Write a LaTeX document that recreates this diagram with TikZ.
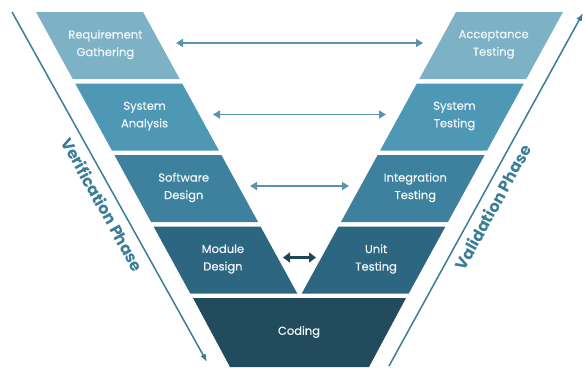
\documentclass[tikz,border=0pt]{standalone}
\usepackage{fontspec}
\setmainfont{Poppins}
\newfontfamily\bandfont{Poppins}[FakeBold=0.6]
\usetikzlibrary{arrows.meta, calc, positioning}

\definecolor{bandA}{HTML}{7DB1C6}
\definecolor{bandB}{HTML}{4F98B5}
\definecolor{bandC}{HTML}{3D819F}
\definecolor{bandD}{HTML}{2D6681}
\definecolor{bandE}{HTML}{224C5E}
\definecolor{linkc}{HTML}{5A93AE}
\definecolor{darklink}{HTML}{1E4656}
\definecolor{phasec}{HTML}{3A7D99}

\tikzset{
    x=1pt, y=-1pt,
    bandtext/.style = {text=white!88!bandA, align=center,
                       font=\bandfont\fontsize{11.5}{17.5}\selectfont},
    link/.style = {{Triangle[length=7pt,width=8pt]}-{Triangle[length=7pt,width=8pt]},
                   line width=1.6pt, draw=linkc},
    shortlink/.style = {{Triangle[length=7pt,width=10pt]}-{Triangle[length=7pt,width=10pt]},
                   line width=2.4pt, draw=darklink},
    phase/.style = {-{Latex[length=8pt,width=6pt]}, line width=1.5pt, draw=phasec},
    phaselabel/.style = {text=phasec, sloped, below=4pt,
                         font=\bfseries\fontsize{16}{16}\selectfont}
    }

\begin{document}
\begin{tikzpicture}
    \useasboundingbox (0,0) rectangle (586,367);

    % the two arms of the V
    \foreach \i/\nm/\lt/\rt/\col/\la/\lb in {
        0/req/{Requirement\\Gathering}/{Acceptance\\Testing}/bandA/176/423,
        1/sys/{System\\Analysis}/{System\\Testing}/bandB/213/386,
        2/sw/{Software\\Design}/{Integration\\Testing}/bandC/250/349,
        3/mod/{Module\\Design}/{Unit\\Testing}/bandD/283/316}
    {
        \pgfmathsetmacro\yt{12+71.5*\i}
        \pgfmathsetmacro\yb{\yt+67}
        \pgfmathsetmacro\xt{36+0.548*(\yt-12)}
        \pgfmathsetmacro\xb{36+0.548*(\yb-12)}
        \fill[\col] (\xt,\yt) -- ++(107,0) -- (\xb+107,\yb) -- (\xb,\yb) -- cycle;
        \fill[\col] (599-\xt,\yt) -- ++(-107,0) -- (492-\xb,\yb) -- (599-\xb,\yb) -- cycle;
        \node[bandtext] (\nm L) at ({(\xt+\xb)/2+51}, {(\yt+\yb)/2-1}) {\lt};
        \node[bandtext] (\nm R) at ({599-(\xt+\xb)/2-51}, {(\yt+\yb)/2-1}) {\rt};
        \coordinate (\nm a) at (\la, {(\yt+\yb)/2-2.5});
        \coordinate (\nm b) at (\lb, {(\yt+\yb)/2-2.5});
    }

    % bottom of the V
    \fill[bandE] (193,298) -- (406,298) -- (369,367) -- (230,367) -- cycle;
    \node[bandtext] (code) at (299,332) {Coding};

    \draw[link] (reqa) -- (reqb);
    \draw[link] (sysa) -- (sysb);
    \draw[link] (swa) -- (swb);
    \draw[shortlink] (moda) -- (modb);

    % phase arrows
    \coordinate (vs) at (12,12);
    \coordinate (ve) at (207,362);
    \coordinate (ls) at (389,366);
    \coordinate (le) at (583,13);
    \draw[phase] (vs) -- node[phaselabel, pos=0.53] {Verification Phase} (ve);
    \draw[phase] (ls) -- node[phaselabel, pos=0.47] {Validation Phase} (le);
\end{tikzpicture}
\end{document}
